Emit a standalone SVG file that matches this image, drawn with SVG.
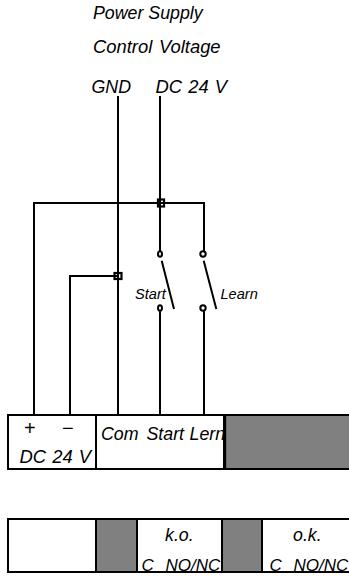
<svg xmlns="http://www.w3.org/2000/svg" width="349" height="576" viewBox="0 0 349 576">
<style>
text{font-family:"Liberation Sans",Arial,sans-serif;font-style:italic;font-size:17.800px;fill:#000}
.sm{font-size:14.600px}
.wide{font-size:18.400px;word-spacing:1px}
.nc{font-size:17px}
.sign{font-size:20px;font-style:normal}
.w{fill:none;stroke:#000;stroke-width:2}
.box{fill:#fff;stroke:#000;stroke-width:2}
.g{fill:#808080;stroke:#000;stroke-width:2}
.c{fill:#fff;stroke:#000;stroke-width:2}
.j{fill:#fff;stroke:#000;stroke-width:2.200}
</style>
<rect width="349" height="576" fill="#fff"/>
<g id="junction-1"><rect class="j" x="158" y="199.500" width="6" height="7"/></g>
<g id="junction-2"><rect class="j" x="114.500" y="273" width="7" height="6"/></g>
<g id="connectors">
<path class="w" d="M118 96V415M160 96V251M34 415V203H204V251M70 415V276H118M160 311V415M204 311V415"/>
<path class="w" d="M161.700 260.700L174 309M203.700 260.700L216.300 309"/>
</g>
<g id="labels">
<text x="93" y="19">Power Supply</text>
<text class="wide" x="93" y="53" style="word-spacing:1.500px">Control Voltage</text>
<text x="91.500" y="93">GND</text>
<text class="wide" x="155.500" y="93">DC 24 V</text>
</g>
<g id="switch-start">
<ellipse class="c" cx="160" cy="254" rx="2" ry="2.800"/>
<ellipse class="c" cx="160" cy="308" rx="2" ry="2.800"/>
<text class="sm" x="135" y="298.500">Start</text>
</g>
<g id="switch-learn">
<circle class="c" cx="203" cy="254" r="2.700"/>
<circle class="c" cx="203" cy="308" r="2.700"/>
<text class="sm" x="220.500" y="298.500">Learn</text>
</g>
<g id="terminal-power">
<rect class="box" x="8" y="415" width="88" height="54"/>
<text class="sign" x="24" y="435">+</text>
<text class="sign" x="62" y="434.500">−</text>
<text class="wide" x="19.500" y="463">DC 24 V</text>
</g>
<g id="terminal-inputs">
<rect class="box" x="96" y="415" width="128" height="54"/>
<text x="101" y="439.500">Com</text>
<text x="146.500" y="439.500">Start</text>
<text x="189.500" y="439.500">Lern</text>
</g>
<g id="terminal-blank">
<rect class="g" x="225" y="415" width="126" height="54"/>
<path d="M224.700 414V470" fill="none" stroke="#000" stroke-width="3"/>
</g>
<g id="relay-blank"><rect class="box" x="8" y="519" width="88" height="53"/></g>
<g id="relay-ko">
<rect class="box" x="137" y="519" width="85" height="53"/>
<text x="165" y="541">k.o.</text>
<text class="nc" x="141.500" y="570.500">C</text>
<text class="nc" x="165.500" y="570.500">NO/NC</text>
</g>
<g id="relay-grey-1"><rect class="g" x="96" y="519" width="41" height="53"/></g>
<g id="relay-ok">
<rect class="box" x="262" y="519" width="89" height="53"/>
<text x="293" y="541">o.k.</text>
<text class="nc" x="269.500" y="570.500">C</text>
<text class="nc" x="293.500" y="570.500">NO/NC</text>
</g>
<g id="relay-grey-2"><rect class="g" x="222" y="519" width="40" height="53"/></g>
</svg>
